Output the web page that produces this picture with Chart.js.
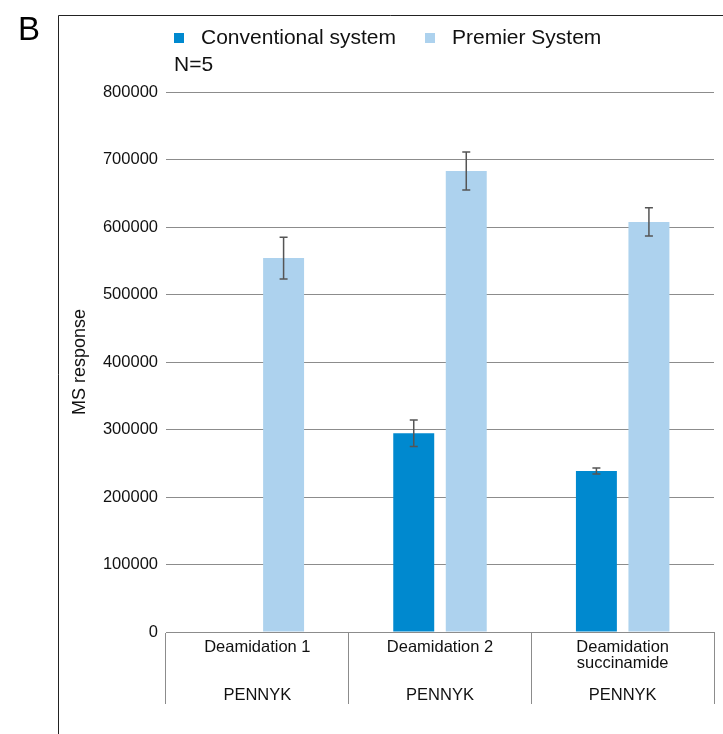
<!DOCTYPE html>
<html>
<head>
<meta charset="utf-8">
<script src="https://cdn.jsdelivr.net/npm/chart.js@4.4.1/dist/chart.umd.min.js"></script>
<style>
  html, body { margin: 0; padding: 0; background: #fff; }
  #wrap { position: relative; width: 723px; height: 734px; }
</style>
</head>
<body>
<div id="wrap"><canvas id="msChart" width="723" height="734"></canvas></div>
<script>
// data
const categories = [
    ['Deamidation 1', '', '', 'PENNYK'],
    ['Deamidation 2', '', '', 'PENNYK'],
    ['Deamidation', 'succinamide', '', 'PENNYK']
];
const conventional = [0, 294500, 238500];
const conventionalErr = [0, 19500, 4500];
const premier = [554000, 683000, 607500];
const premierErr = [31000, 28000, 21000];
const yTicks = [0, 100000, 200000, 300000, 400000, 500000, 600000, 700000, 800000];

const gridGrey = '#8c8c8c';
const convBlue = 'rgb(0, 137, 207)';
const premBlue = 'rgb(173, 210, 238)';
const font = 'Liberation Sans, Arial, sans-serif';

// error bars, legend, frame and panel letter
const extras = {
    id: 'extras',
    afterDatasetsDraw(chart) {
        const ctx = chart.ctx;
        const y = chart.scales.y;
        ctx.save();
        ctx.strokeStyle = '#555';
        ctx.lineWidth = 1.5;
        chart.data.datasets.forEach((ds, di) => {
            const meta = chart.getDatasetMeta(di);
            ds.errors.forEach((e, i) => {
                if (!e) return;
                const x = meta.data[i].x;
                const top = y.getPixelForValue(ds.data[i] + e);
                const bot = y.getPixelForValue(ds.data[i] - e);
                ctx.beginPath();
                ctx.moveTo(x, top); ctx.lineTo(x, bot);
                ctx.moveTo(x - 4, top); ctx.lineTo(x + 4, top);
                ctx.moveTo(x - 4, bot); ctx.lineTo(x + 4, bot);
                ctx.stroke();
            });
        });
        ctx.restore();
    },
    afterDraw(chart) {
        const ctx = chart.ctx;
        ctx.save();
        // frame
        ctx.strokeStyle = '#222';
        ctx.lineWidth = 1;
        ctx.beginPath();
        ctx.moveTo(58.5, 734);
        ctx.lineTo(58.5, 15.5);
        ctx.lineTo(723, 15.5);
        ctx.stroke();
        // panel letter
        ctx.fillStyle = '#000';
        ctx.textBaseline = 'middle';
        ctx.font = '33px ' + font;
        ctx.fillText('B', 18, 31);
        // legend
        const legendX = [174, 425];
        ctx.font = '21px ' + font;
        chart.data.datasets.forEach((ds, i) => {
            ctx.fillStyle = ds.backgroundColor;
            ctx.fillRect(legendX[i], 33, 10, 10);
            ctx.fillStyle = '#111';
            ctx.fillText(ds.label, legendX[i] + 27, 38);
        });
        ctx.fillText('N=5', 174, 65);
        ctx.restore();
    }
};

new Chart(document.getElementById('msChart'), {
    type: 'bar',
    data: {
        labels: categories,
        datasets: [
            {
                label: 'Conventional system',
                data: conventional,
                errors: conventionalErr,
                backgroundColor: convBlue,
                categoryPercentage: 0.575,
                barPercentage: 0.78
            },
            {
                label: 'Premier System',
                data: premier,
                errors: premierErr,
                backgroundColor: premBlue,
                categoryPercentage: 0.575,
                barPercentage: 0.78
            }
        ]
    },
    options: {
        responsive: false,
        animation: false,
        layout: { padding: { left: 0, right: 9, top: 92, bottom: 0 } },
        plugins: {
            legend: { display: false },
            tooltip: { enabled: false }
        },
        scales: {
            x: {
                grid: {
                    offset: true,
                    drawOnChartArea: false,
                    tickLength: 72,
                    color: gridGrey,
                    lineWidth: 1
                },
                border: { color: gridGrey, width: 1 },
                ticks: {
                    color: '#111',
                    padding: -64,
                    maxRotation: 0,
                    autoSkip: false,
                    font: { family: font, size: 16.5, lineHeight: 0.96 }
                },
                afterFit(scale) { scale.height = 102; }
            },
            y: {
                min: 0,
                max: 800000,
                afterBuildTicks(scale) { scale.ticks = yTicks.map(v => ({ value: v })); },
                grid: { color: gridGrey, lineWidth: 1, drawTicks: false },
                border: { display: false },
                ticks: {
                    color: '#111',
                    padding: 8,
                    font: { family: font, size: 16.5 },
                    callback: v => String(v)
                },
                title: {
                    display: true,
                    text: 'MS response',
                    color: '#111',
                    padding: { top: 69, bottom: 0 },
                    font: { family: font, size: 18 }
                },
                afterFit(scale) { scale.width = 166; }
            }
        }
    },
    plugins: [extras]
});
</script>
</body>
</html>
